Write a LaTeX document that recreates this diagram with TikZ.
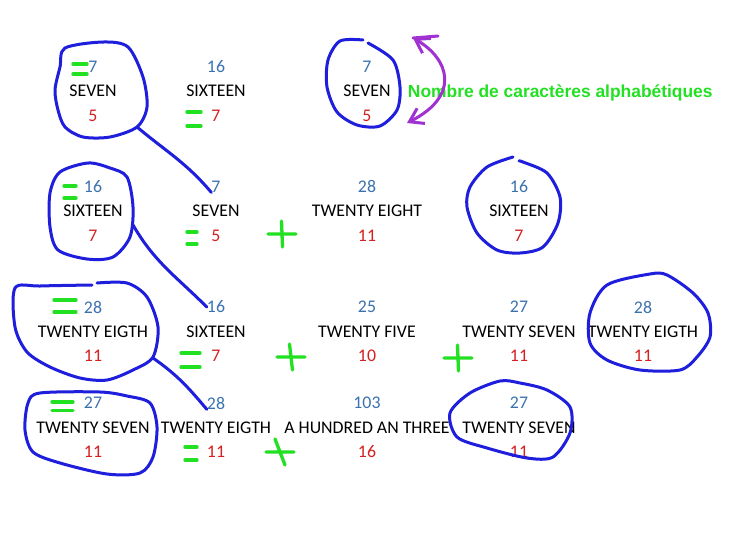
\documentclass[tikz,border=0pt]{standalone}
\usepackage{fontspec}
\setmainfont{Carlito}
\newfontfamily\labelfont{Liberation Sans}
\usepackage{tikz}
\usetikzlibrary{arrows.meta,positioning}

\definecolor{numblue}{HTML}{3B72AE}
\definecolor{cntred}{HTML}{D42020}
\definecolor{penblue}{HTML}{1E1EDC}
\definecolor{pengreen}{HTML}{22E022}
\definecolor{penpurple}{HTML}{A032D2}

\begin{document}
\begin{tikzpicture}[x=1pt,y=-1pt,node distance=24.5pt,
    word/.style={inner sep=0pt,font=\fontsize{17.8}{20}\selectfont},
    num/.style={word,text=numblue},
    cnt/.style={word,text=cntred},
    bluepen/.style={draw=penblue,line width=3pt,line cap=round,line join=round},
    greenpen/.style={draw=pengreen,line width=3.3pt,line cap=round},
    purplepen/.style={draw=penpurple,line width=3pt,line cap=round}]
  \useasboundingbox[fill=white] (0,0) rectangle (734,550);

  % number / word / letters
  \foreach \n/\x/\y/\a/\b/\c in {11/93/91/7/SEVEN/5, 12/216/91/16/SIXTEEN/7, 13/367/91/7/SEVEN/5,
      21/93/211/16/SIXTEEN/7, 22/216/211/7/SEVEN/5, 23/367/211/28/TWENTY EIGHT/11, 24/519/211/16/SIXTEEN/7,
      31/93/331.5/28/TWENTY EIGTH/11, 32/216/331.5/16/SIXTEEN/7, 33/367/331.5/25/TWENTY FIVE/10,
      34/519/331.5/27/TWENTY SEVEN/11, 35/643/331.5/28/TWENTY EIGTH/11,
      41/93/427.5/27/TWENTY SEVEN/11, 42/216/427.5/28/TWENTY EIGTH/11, 43/367/427.5/103/A HUNDRED AN THREE/16,
      44/519/427.5/27/TWENTY SEVEN/11}
  {
    \node[word] (w\n) at (\x,\y) {\b};
    \node[num] (n\n) [above of=w\n] {\a};
    \node[cnt] (c\n) [below of=w\n] {\c};
  }

  \node[inner sep=0pt,text depth=0pt,text=pengreen,font=\labelfont\bfseries\fontsize{17.4}{20}\selectfont]
    (lbl) [right=17pt of w13] {Nombre de caractères alphabétiques};

  % circles
  \draw[bluepen] plot[smooth cycle] coordinates {(65,48) (103,42) (128,47) (143,77) (147,107) (137,127)
    (110,137) (83,137) (65,127) (58,110) (55,90) (60,67)};
  \draw[bluepen] plot[smooth] coordinates {(363,40) (340,41) (328,60) (327,87) (337,112) (357,125)
    (380,126) (397,110) (400,87) (393,60) (368,43)};
  \draw[bluepen] plot[smooth cycle] coordinates {(88,163) (60,172) (50,193) (50,227) (58,250) (87,259)
    (113,257) (130,237) (133,207) (127,177) (110,168)};
  \draw[bluepen] plot[smooth] coordinates {(513,157) (487,167) (470,187) (467,207) (477,233) (497,250)
    (520,253) (543,247) (558,223) (560,197) (547,173) (523,162) (519,161)};
  \draw[bluepen] plot[smooth] coordinates {(92,285) (40,286) (15,288) (15,327) (27,352) (50,367)
    (80,378) (107,380) (133,370) (153,357) (158,327) (147,297) (127,283) (97,283)};
  \draw[bluepen] plot[smooth cycle] coordinates {(650,274) (607,285) (590,313) (590,343) (607,360)
    (640,370) (680,370) (697,357) (710,337) (708,313) (693,293) (667,275)};
  \draw[bluepen] plot[smooth cycle] coordinates {(100,392) (40,393) (28,403) (25,430) (33,452) (60,463)
    (107,474) (140,473) (153,457) (157,427) (150,403) (127,396)};
  \draw[bluepen] plot[smooth cycle] coordinates {(500,381) (470,393) (450,413) (457,437) (487,448)
    (527,458) (553,457) (570,433) (570,407) (547,390) (520,383)};

  \coordinate (o1) at (137,127);
  \coordinate (o2) at (133,225);
  \coordinate (o3) at (153,358);
  \draw[bluepen] (o1) to[out=-40,in=130] (n22.south west);
  \draw[bluepen] (o2) to[out=-60,in=135] (n32.west);
  \draw[bluepen] (o3) to[out=-35,in=130] (n42.south west);

  % arrow 7 <-> 5
  \coordinate (ptop) at (413,38);
  \coordinate (pbot) at (407,123);
  \draw[purplepen,{Straight Barb[length=13pt,width=17pt]}-{Straight Barb[length=13pt,width=17pt]}]
    (ptop) .. controls (448,58) and (462,95) .. (pbot);
  \draw[purplepen] (ptop) -- (438,36);

  % = and +
  \foreach \x/\y/\w/\g in {73/64/14/10, 187/112/14/14, 64/186/12/12, 187/232/10/12,
      54/300/22/12, 181/353/19/14, 52/402/21/8.5, 185/447/12/13}
    \draw[greenpen] (\x,\y) -- (\x+\w,\y) (\x,\y+\g) -- (\x+\w,\y+\g);
  \foreach \x/\y/\s in {282/234/0.5, 291/357/1.5, 458/358/0.5, 280/452/5}
    \draw[greenpen] (\x-14,\y) -- (\x+14,\y) (\x-\s,\y-13) -- (\x+\s,\y+13);
\end{tikzpicture}
\end{document}
